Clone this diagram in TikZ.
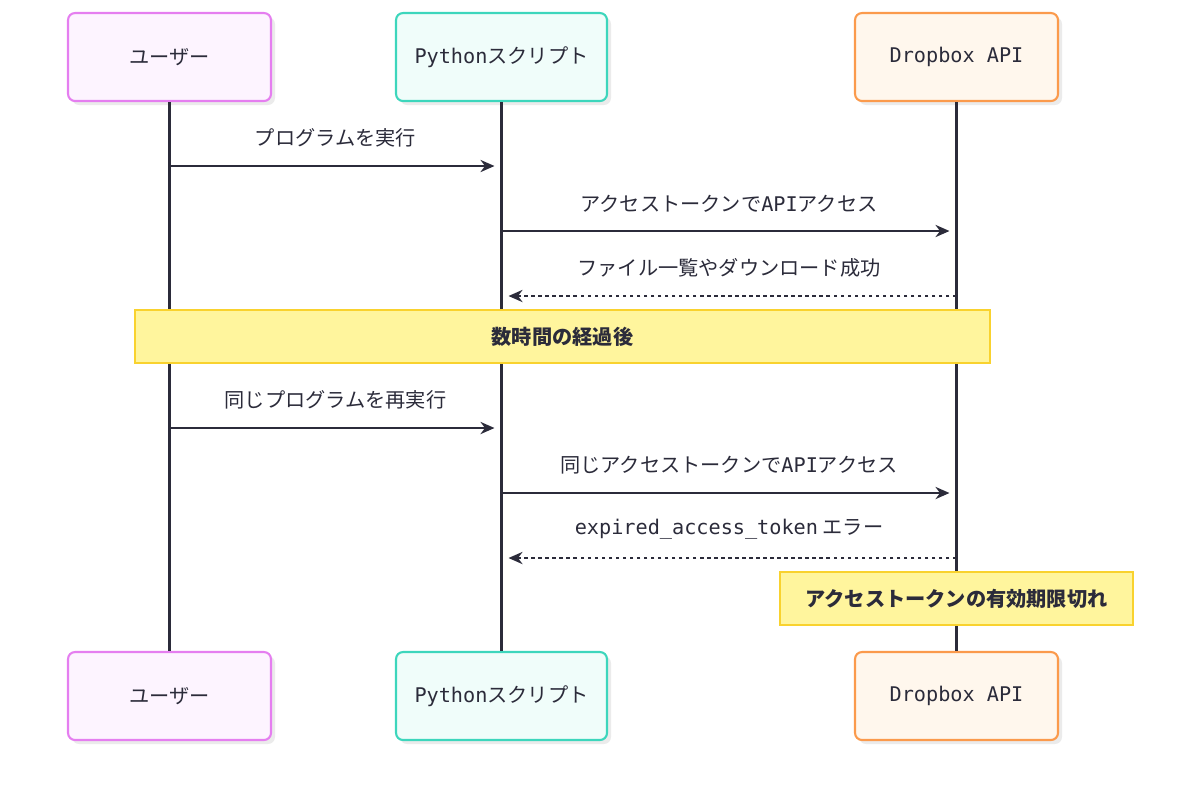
\documentclass[tikz,border=0pt]{standalone}
\usepackage{fontspec}
\setmainfont{Noto Sans CJK JP}
\newfontfamily\lat{DejaVu Sans Mono}
\usetikzlibrary{arrows.meta}
\definecolor{ink}{HTML}{2B2B3A}
\definecolor{userline}{HTML}{E57EF0}
\definecolor{userfill}{HTML}{FDF4FF}
\definecolor{pyline}{HTML}{3DD6BC}
\definecolor{pyfill}{HTML}{F0FDFA}
\definecolor{dbline}{HTML}{FB9A4C}
\definecolor{dbfill}{HTML}{FFF7ED}
\definecolor{notefill}{HTML}{FFF59D}
\definecolor{noteline}{HTML}{F9D22E}
\tikzset{
  actor/.style={draw=#1line, fill=#1fill, line width=1.2pt, rounded corners=4pt,
    minimum width=4.06cm, minimum height=1.76cm, text=ink,
    font=\fontsize{11.5}{14}\selectfont},
  shade/.style={fill=black!8, rounded corners=4pt},
  life/.style={draw=ink, line width=1.4pt},
  msg/.style={draw=ink, line width=0.9pt, shorten >=4pt,
    -{Stealth[length=8pt,width=7pt]}},
  reply/.style={msg, dash pattern=on 2pt off 2pt},
  lbl/.style={text=ink, font=\fontsize{11.5}{14}\selectfont, above=7pt},
  note/.style={draw=noteline, fill=notefill, line width=1pt, text=ink,
    font=\bfseries\fontsize{11.5}{14}\selectfont, inner sep=0pt}
}
\begin{document}
\begin{tikzpicture}[x=0.02cm, y=-0.02cm]
\useasboundingbox (0,0) rectangle (1200,796);
% shadows
\foreach \cx/\w in {169.5/101.5,501.5/105.5,956.5/101.5}
  \foreach \cy in {57,696}
    \fill[shade] (\cx-\w+4,\cy-40) rectangle (\cx+\w+4,\cy+48);
% actors
\node[actor=user] (u1) at (169.5,57) {ユーザー};
\node[actor=py, minimum width=4.22cm] (p1) at (501.5,57) {{\lat Python}スクリプト};
\node[actor=db]   (d1) at (956.5,57) {{\lat Dropbox API}};
\node[actor=user] (u2) at (169.5,696) {ユーザー};
\node[actor=py, minimum width=4.22cm] (p2) at (501.5,696) {{\lat Python}スクリプト};
\node[actor=db]   (d2) at (956.5,696) {{\lat Dropbox API}};
% lifelines
\draw[life] (u1.south) -- (u2.north);
\draw[life] (p1.south) -- (p2.north);
\draw[life] (d1.south) -- (d2.north);
% message points
\foreach \i/\y in {1/166,2/231,3/296,4/428,5/493,6/558} {
  \coordinate (u\i) at (169.5,\y);
  \coordinate (p\i) at (501.5,\y);
  \coordinate (d\i) at (956.5,\y);
}
% messages
\draw[msg] (u1) -- (p1) node[lbl, midway] {プログラムを実行};
\draw[msg] (p2) -- (d2) node[lbl, midway] {アクセストークンで{\lat API}アクセス};
\draw[reply] (d3) -- (p3) node[lbl, midway] {ファイル一覧やダウンロード成功};
\node[note, minimum width=17.1cm, minimum height=1.06cm] (gap) at (562.5,336.5) {数時間の経過後};
\draw[msg] (u4) -- (p4) node[lbl, midway] {同じプログラムを再実行};
\draw[msg] (p5) -- (d5) node[lbl, midway] {同じアクセストークンで{\lat API}アクセス};
\draw[reply] (d6) -- (p6) node[lbl, midway] {{\lat expired\_access\_token} エラー};
\node[note, minimum width=7.06cm, minimum height=1.06cm] (exp) at (956.5,598.5) {アクセストークンの有効期限切れ};
\end{tikzpicture}
\end{document}
